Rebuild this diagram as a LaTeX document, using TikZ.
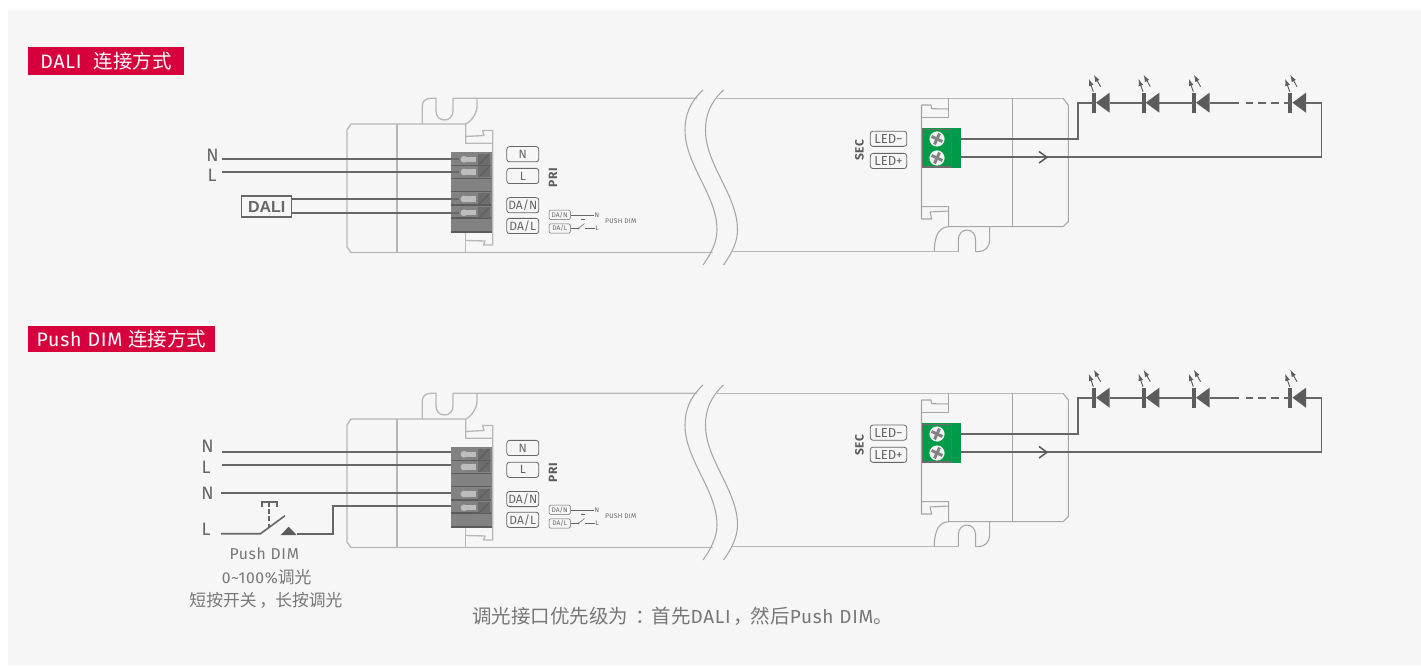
\documentclass[tikz,border=0pt]{standalone}
\usepackage{fontspec}
\usetikzlibrary{arrows.meta}
\setmainfont[LetterSpace=4]{Fira Sans}
\newfontfamily\tight{Fira Sans}
\newfontfamily\cjk{Noto Sans CJK SC}
\newfontfamily\arialb{Liberation Sans}
\newcommand{\fsz}[1]{\fontsize{#1}{#1}\selectfont}
\definecolor{pagebg}{HTML}{F6F6F6}
\definecolor{headred}{HTML}{D6003C}
\definecolor{shell}{HTML}{B8B8B8}
\definecolor{shellthin}{HTML}{A6A6A6}
\definecolor{wirec}{HTML}{666666}
\definecolor{termc}{HTML}{828282}
\definecolor{termd}{HTML}{5C5C5C}
\definecolor{termk}{HTML}{6C6C6C}
\definecolor{pinc}{HTML}{BDBDBD}
\definecolor{greenc}{HTML}{009B48}
\definecolor{textc}{HTML}{777777}
\definecolor{labelc}{HTML}{666666}
\tikzset{
  shellline/.style={draw=shell,line width=1pt,line join=round},
  shellthinline/.style={draw=shellthin,line width=.8pt,line join=round},
  wire/.style={draw=wirec,line width=1.4pt,line join=miter},
  headbar/.style={fill=headred,text=white,inner sep=0pt,font=\fsz{14.6}},
  tag/.style={draw=labelc,line width=.6pt,rounded corners=2pt,inner sep=0pt,text=labelc,font=\tight\fsz{9},minimum height=11.4pt},
  minitag/.style={draw=labelc,line width=.4pt,rounded corners=1pt,inner sep=0pt,text=labelc,font=\tight\fsz{5},minimum height=7pt,minimum width=16pt},
  minitxt/.style={inner sep=0pt,text=labelc,font=\fsz{5}},
  sidebold/.style={inner sep=0pt,text=termd,font=\fsz{9}\bfseries,rotate=90},
  wirelabel/.style={inner sep=0pt,text=labelc,font=\fsz{13.5}},
  note/.style={inner sep=0pt,text=textc,font=\fsz{11.8}},
}
% one row of the input terminal block
\newcommand{\pinrow}[2]{%
  \fill[pinc] (464,#1) circle[radius=3.4];
  \fill[pinc] (464,#1-2.6) rectangle (476,#1+2.6);
  \fill[termk] (478,#1-5.5) rectangle (489.5,#1+5.5);
  \draw[termd,line width=.8pt] (479,#1+5) -- (489,#1-5);
  \coordinate (#2) at (459,#1);
}
\newcommand{\ledmark}[3]{% name, x of bar, y of axis
  \coordinate (#1c) at (#2,#3);
  \coordinate (#1k) at (#2+16,#3);
  \fill[termd] (#2-1.8,#3-10) rectangle (#2+2.4,#3+10);
  \fill[termd] (#2+2.4,#3) -- (#2+16,#3-10) -- (#2+16,#3+10) -- cycle;
  \draw[termd,line width=.7pt,-{Latex[length=5.4pt,width=3.6pt]}] (#2-.3,#3-11) -- (#2-4.8,#3-24);
  \draw[termd,line width=.7pt,-{Latex[length=5.4pt,width=3.6pt]}] (#2+7,#3-16) -- (#2+.2,#3-28);
}
\newcommand{\screwmark}[2]{%
  \fill[white!94!black] (#1,#2) circle[radius=7.6];
  \begin{scope}[shift={(#1,#2)},rotate=-25]
    \draw[termk!85!white,line width=2.2pt] (-6,0) -- (6,0);
    \draw[termk!85!white,line width=2.2pt] (0,-6) -- (0,6);
  \end{scope}
}
% the driver, one copy per panel: prefix, vertical offset, tag correction
\newcommand{\lampdriver}[3]{%
\begin{scope}[shift={(0,#2)}]
  % left shell
  \draw[shellline] (347,130) -- (351,124) -- (465.7,124) -- (465.7,143.3) -- (492.8,143.3);
  \draw[shellline] (347,130) -- (347,247) -- (351,252.5) -- (712.5,252.5);
  \draw[shellline] (397,124) -- (397,252.5);
  \draw[shellline] (465.7,136.5) -- (484,135.5) -- (482.5,130.5) -- (492.8,130.5) -- (492.8,245) -- (483.5,245) -- (485,241) -- (465.7,240.5);
  \draw[shellline] (465.7,233) -- (465.7,252.5);
  % top tab
  \draw[shellline] (422.3,124) -- (422.3,106) .. controls (422.3,101) and (426,98.3) .. (431,98.3) -- (436,98.3) -- (436,111) .. controls (436,123) and (453,123) .. (453,111) -- (453,98.3) -- (697,98.3);
  \draw[shellline] (477,98.3) -- (477,106) .. controls (477,113) and (472,121) .. (465.7,124);
  % break
  \draw[shellthinline] (703,90) .. controls (690,102) and (685,115) .. (685,130) .. controls (685,165) and (717,195) .. (717,230) .. controls (717,242) and (711,254) .. (703,265);
  \draw[shellthinline] (723.5,90) .. controls (710.5,102) and (705.5,115) .. (705.5,130) .. controls (705.5,165) and (737.5,195) .. (737.5,230) .. controls (737.5,242) and (731.5,254) .. (723.5,265);
  % right shell
  \draw[shellline] (717,98.3) -- (1063,98.3);
  \draw[shellthinline] (1063,98.3) -- (1068.3,105) -- (1068.3,221.7) -- (1063,226.7) -- (948.7,226.7) -- (948.7,206.7) -- (921.5,206.7);
  \draw[shellthinline] (948.7,98.3) -- (948.7,117.5) -- (921.5,117.5);
  \draw[shellthinline] (921.5,105) -- (921.5,219) -- (931.7,219) -- (930,212) -- (948.7,211);
  \draw[shellthinline] (948.7,109) -- (931.7,108.7) -- (931,105) -- (921.5,105);
  \draw[shellthinline] (1012.5,98.3) -- (1012.5,226.7);
  \draw[shellline] (732,251.7) -- (958.3,251.7);
  \draw[shellthinline] (948.7,226.7) .. controls (940,227) and (934.3,234) .. (934.3,251.7);
  \draw[shellthinline] (958.3,251.7) -- (958.3,240) .. controls (958.3,226.7) and (975.6,226.7) .. (975.6,240) -- (975.6,251.7) -- (978,251.7) .. controls (985,251.7) and (989.7,247) .. (989.7,240) -- (989.7,226.7);
  % input terminal
  \fill[termc] (451,152.3) rectangle (492.3,232.7);
  \foreach \ry in {165.7,178.7,191.3,205,218}{\draw[termd,line width=.8pt] (451,\ry) -- (491,\ry);}
  \draw[termd,line width=1.4pt] (451,231.7) -- (492.3,231.7);
  \pinrow{159.3}{#1pa}\pinrow{172}{#1pb}\pinrow{199}{#1pc}\pinrow{212.8}{#1pd}
  % terminal tags
  \node[tag,minimum width=24pt] (#1tn) at (522.8,154.2+#3) {N};
  \node[tag,minimum width=24pt] (#1tl) at (522.8,176+#3) {L};
  \node[tag,minimum width=24pt] (#1tda) at (522.8,205.2+#3) {DA/N};
  \node[tag,minimum width=24pt] (#1tdb) at (522.8,226+#3) {DA/L};
  \node[sidebold] (#1pri) at (553,178) {PRI};
  % small legend
  \node[minitag] (#1ma) at (559.7,214.8) {DA/N};
  \node[minitag] (#1mb) at (559.7,228.5) {DA/L};
  \node[minitxt] (#1mn) at (597,214.8) {N};
  \node[minitxt] (#1ml) at (597,228.5) {L};
  \node[minitxt] (#1mp) at (620.8,221.6) {PUSH DIM};
  \draw[labelc,line width=.4pt] (#1ma) -- (#1mn);
  \coordinate (#1sa) at (578.5,228.5);
  \coordinate (#1sb) at (585,228.5);
  \draw[labelc,line width=.4pt] (#1mb) -- (#1sa) -- ++(6,-5);
  \draw[labelc,line width=.4pt] (#1sb) -- (#1ml);
  \draw[labelc,line width=.4pt] (581,219.3) -- (585,219.3);
  \fill[labelc] (#1sa) circle[radius=.8];
  % output side
  \node[sidebold] (#1sec) at (859.5,150) {SEC};
  \node[tag,font=\tight\fsz{9.8},minimum width=27.3pt] (#1led) at (888.5,138.8+#3) {LED−};
  \node[tag,font=\tight\fsz{9.8},minimum width=27.3pt] (#1lep) at (888.5,161+#3) {LED+};
  \fill[greenc] (922,127.7) rectangle (960.7,168.3);
  \draw[termk,line width=.8pt] (922.4,129.5) rectangle (951.7,167);
  \screwmark{937}{139}\screwmark{937}{158}
  \coordinate (#1gm) at (960.7,139);
  \coordinate (#1gp) at (960.7,157.3);
  % load
  \coordinate (#1ua) at (1078.3,139);
  \coordinate (#1ub) at (1078.3,102.7);
  \ledmark{#1da}{1093.6}{102.7}
  \ledmark{#1db}{1143.3}{102.7}
  \ledmark{#1dc}{1193.6}{102.7}
  \ledmark{#1dd}{1290}{102.7}
  \coordinate (#1ra) at (1239,102.7);
  \coordinate (#1rb) at (1245.7,102.7);
  \coordinate (#1rc) at (1321.5,102.7);
  \coordinate (#1rd) at (1321.5,157.3);
  \draw[wire] (#1gm) -- (#1ua) -- (#1ub) -- (#1dac);
  \draw[wire] (#1dak) -- (#1dbc);
  \draw[wire] (#1dbk) -- (#1dcc);
  \draw[wire] (#1dck) -- (#1ra);
  \draw[wire,dash pattern=on 5.6pt off 3.9pt] (#1rb) -- (#1ddc);
  \draw[wire] (#1ddk) -- (#1rc) -- (#1rd) -- (#1gp);
  \draw[wirec!85!black,line width=1.1pt] (1039,151.5) -- (1047,157.3) -- (1039,163);
\end{scope}}
\begin{document}
\begin{tikzpicture}[x=.75pt,y=-.75pt]
\useasboundingbox (0,0) rectangle (1421,666);
\fill[white] (0,0) rectangle (1421,666);
\fill[pagebg] (8,10) rectangle (1421,665);
% headers
\node[headbar,minimum width=117pt,minimum height=21pt] (heada) at (106,61) {DALI\hspace{9pt}{\cjk 连接方式}};
\node[headbar,minimum width=140.25pt,minimum height=19.5pt] (headb) at (121.5,339) {Push DIM {\cjk 连接方式}};
% panel one
\lampdriver{a}{0}{0}
\node[wirelabel] (an) at (212.5,155.7) {N};
\node[wirelabel] (al) at (212,175.7) {L};
\coordinate (ane) at (222,159.3);
\coordinate (ale) at (222,172);
\draw[wire] (ane) -- (apa);
\draw[wire] (ale) -- (apb);
\node[draw=labelc,line width=1pt,inner sep=0pt,minimum width=37.5pt,minimum height=15.6pt,text=labelc,font=\arialb\fsz{12}\bfseries] (dali) at (266.7,206.5) {DALI};
\coordinate (dla) at (292,199);
\coordinate (dlb) at (292,212.8);
\draw[wire] (dla) -- (apc);
\draw[wire] (dlb) -- (apd);
% panel two
\lampdriver{b}{295}{-1.2}
\node[wirelabel] (bn) at (207.5,446) {N};
\node[wirelabel] (bl) at (206,467.3) {L};
\node[wirelabel] (bm) at (207.5,493.3) {N};
\node[wirelabel] (bk) at (206,529.3) {L};
\coordinate (wa0) at (222.3,451.7); \coordinate (wa1) at (451,451.7);
\coordinate (wb0) at (222.3,464.7); \coordinate (wb1) at (451,464.7);
\coordinate (wc0) at (221,493.3); \coordinate (wc1) at (451,493.3);
\coordinate (wd0) at (333.3,533.7); \coordinate (wd1) at (333.3,506.3); \coordinate (wd2) at (451,506.3);
\coordinate (swa) at (221,533.7); \coordinate (swb) at (260.5,533.7); \coordinate (swc) at (285,515.7);
\coordinate (swd) at (296.7,533.7);
\draw[wire] (wa0) -- (wa1);
\draw[wire] (wb0) -- (wb1);
\draw[wire] (wc0) -- (wc1);
\draw[wire] (swd) -- (wd0) -- (wd1) -- (wd2);
\draw[wire,line width=1.2pt] (swa) -- (swb) -- (swc);
\fill[termd] (280.7,535) -- (288.7,526.7) -- (296.7,535) -- cycle;
\draw[wirec,line width=1.5pt,dash pattern=on 3.4pt off 2pt] (269.3,502) -- (269.3,528.3);
\draw[wirec,line width=1.5pt] (262,506.5) -- (262,501.5) -- (277,501.5) -- (277,506.5);
% notes
\node[note] (na) at (264.3,554) {Push DIM};
\node[note] (nb) at (266.7,577) {0\textasciitilde100\%{\cjk\fsz{12.6}调光}};
\node[note,font=\fsz{12.6}] (nc) at (266,600) {\cjk 短按开关\kern2pt，\kern-.6pt长按调光};
\node[note,font=\fsz{14.6},anchor=west] (nd) at (472,616) {{\cjk 调光接口优先级为\kern6pt：\kern-2.9pt首先}{\fsz{14.2}DALI}{\cjk \kern1.8pt，\kern-1.2pt然后}{\fsz{14.2}Push DIM}{\cjk 。}};
\end{tikzpicture}
\end{document}
